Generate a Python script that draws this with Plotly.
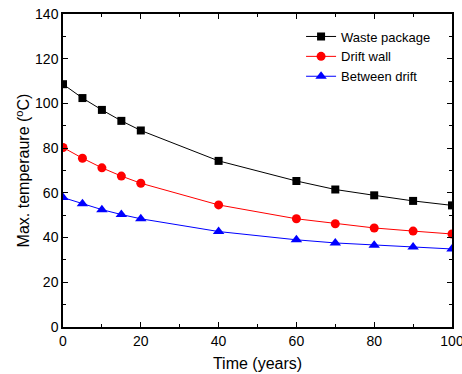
import plotly.graph_objects as go

time_years = [0, 5, 10, 15, 20, 40, 60, 70, 80, 90, 100]
waste_package = [108.6, 102.4, 97.1, 92.2, 87.9, 74.3, 65.3, 61.5, 58.9, 56.4, 54.4]
drift_wall = [80.3, 75.5, 71.2, 67.5, 64.3, 54.6, 48.4, 46.2, 44.3, 42.9, 41.6]
between_drift = [57.9, 55.1, 52.5, 50.3, 48.4, 42.7, 39.0, 37.6, 36.6, 35.8, 34.9]

fig = go.Figure()
fig.add_trace(go.Scatter(x=time_years, y=waste_package, name="Waste package",
                         mode="lines+markers", line=dict(color="black", width=1),
                         marker=dict(symbol="square", size=8, color="black")))
fig.add_trace(go.Scatter(x=time_years, y=drift_wall, name="Drift wall",
                         mode="lines+markers", line=dict(color="red", width=1),
                         marker=dict(symbol="circle", size=9, color="red")))
fig.add_trace(go.Scatter(x=time_years, y=between_drift, name="Between drift",
                         mode="lines+markers", line=dict(color="blue", width=1),
                         marker=dict(symbol="triangle-up", size=10, color="blue")))

axis_common = dict(showline=True, linecolor="black", linewidth=1.5, mirror="allticks",
                   ticks="inside", ticklen=5, tickwidth=1, tickcolor="black",
                   showgrid=False, zeroline=False, automargin=False,
                   ticklabeloverflow="allow",
                   tickfont=dict(family="Liberation Sans, Arial", size=14, color="black"))

fig.update_xaxes(range=[0, 100], dtick=20,
                 title=dict(text="Time (years)", font=dict(size=16, color="black"), standoff=10),
                 minor=dict(ticks="inside", ticklen=3, dtick=10, tickcolor="black"),
                 **axis_common)
fig.update_yaxes(range=[0, 140], dtick=20,
                 title=dict(text="Max. temperaure (<sup>o</sup>C)", font=dict(size=16, color="black"), standoff=1),
                 minor=dict(ticks="inside", ticklen=3, dtick=10, tickcolor="black"),
                 **axis_common)

fig.update_layout(
    width=462, height=374,
    margin=dict(l=63, r=10, t=14, b=47),
    plot_bgcolor="white", paper_bgcolor="white",
    font=dict(family="Liberation Sans, Arial", size=13, color="black"),
    legend=dict(x=0.612, y=0.976, xanchor="left", yanchor="top",
                bgcolor="rgba(0,0,0,0)", font=dict(size=13), tracegroupgap=0),
    showlegend=True,
)

fig.write_html("out.html", config={"displayModeBar": False},
               post_script="document.body.style.margin='0';")
